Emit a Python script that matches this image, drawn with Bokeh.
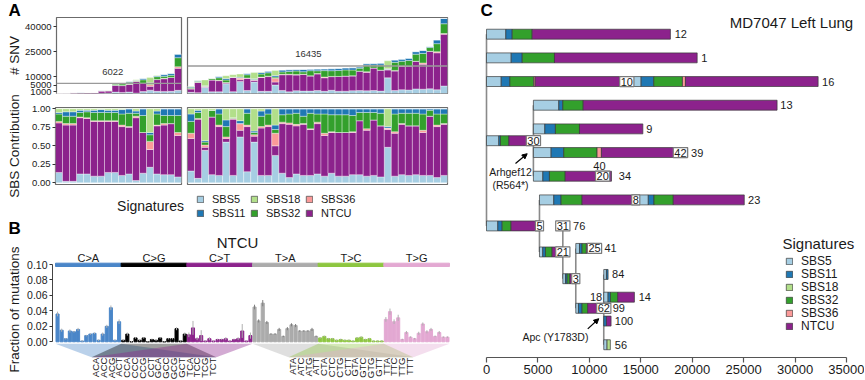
import math
from bokeh.plotting import figure
from bokeh.layouts import row, column
from bokeh.models import (Range1d, FixedTicker, PrintfTickFormatter, Span, Label,
                          Legend, LegendItem, ColumnDataSource, Arrow, NormalHead)
from bokeh.embed import file_html
from bokeh.resources import INLINE
from bokeh.core.properties import value

FONT = "Liberation Sans"
TXT = "#1a1a1a"

# ---------------- signatures ----------------
signatures = ["SBS5", "SBS11", "SBS18", "SBS32", "SBS36", "NTCU"]
sig_colors = ["#A6CEE3", "#1F78B4", "#B2DF8A", "#33A02C", "#FB9A99", "#8C228C"]
stack_order = ["SBS5", "NTCU", "SBS36", "SBS32", "SBS11", "SBS18"]
COL = dict(zip(signatures, sig_colors))

# ---------------- panel A data ----------------
md6812_total = [150, 200, 500, 550, 600, 650, 1800, 1900, 5900, 6200, 7200, 8200,
                9000, 9500, 10800, 11300, 12000, 23500]
md6812_mean = 6022
md6812_SBS5 = [.14, .02, .02, .12, .12, .09, .09, .14, .14, .10, .12, .03, .13, .21, .12, .11, .11, .08]
md6812_NTCU = [.67, .76, .76, .76, .75, .74, .74, .69, .69, .66, .63, .85, .55, .24, .65, .67, .69, .56]
md6812_SBS36 = [.02, .02, .02, .01, .01, .01, .01, .01, .01, .02, .01, .02, .00, .11, .01, .02, .00, .04]
md6812_SBS32 = [.10, .10, .10, .06, .08, .11, .11, .11, .11, .15, .18, .04, .23, .09, .15, .11, .11, .23]
md6812_SBS11 = [.02, .06, .06, .03, .02, .03, .04, .03, .03, .06, .06, .03, .09, .03, .04, .09, .09, .09]
md6812_SBS18 = [.05, .04, .04, .02, .02, .02, .01, .02, .02, .01, .00, .03, .00, .32, .03, .00, .00, .00]

md7047_total = [4400, 7700, 8100, 9100, 10100, 10600, 11200, 11600, 11900, 12500, 12900, 13300,
                13700, 14000, 14200, 14300, 14400, 14500, 14600, 14700, 14800, 15000, 15300,
                15400, 15900, 17800, 17900, 18100, 19500, 20000, 20500, 21000, 25000, 25700,
                28000, 32000, 44800]
md7047_mean = 16435
md7047_SBS5 = [.16, .06, .44, .11, .10, .55, .10, .62, .15, .55, .10, .10, .37, .13, .07, .12, .10, .10, .12,
               .09, .13, .09, .09, .11, .11, .09, .10, .08, .48, .09, .11, .10, .11, .10, .10, .07, .10]
md7047_NTCU = [.44, .80, .04, .78, .66, .05, .76, .09, .61, .08, .64, .66, .13, .67, .72, .65, .69, .62, .68,
               .55, .55, .59, .59, .57, .73, .62, .75, .69, .24, .58, .68, .67, .66, .58, .80, .69, .69]
md7047_SBS36 = [.07, .01, .03, .00, .02, .02, .01, .09, .02, .02, .02, .02, .17, .02, .02, .02, .01, .01, .02,
                .03, .01, .00, .00, .01, .00, .02, .00, .00, .02, .02, .01, .00, .00, .03, .00, .02, .01]
md7047_SBS32 = [.16, .08, .04, .09, .15, .14, .01, .00, .16, .03, .14, .15, .05, .10, .12, .15, .10, .21, .11,
                .26, .23, .24, .24, .22, .11, .22, .10, .17, .00, .24, .14, .17, .17, .22, .08, .15, .13]
md7047_SBS11 = [.10, .03, .02, .00, .07, .09, .00, .04, .06, .02, .07, .07, .06, .08, .07, .06, .10, .06, .07,
                .07, .08, .08, .08, .09, .05, .05, .05, .06, .02, .07, .06, .06, .06, .07, .02, .07, .07]
md7047_SBS18 = [.07, .02, .43, .02, .00, .15, .12, .16, .00, .30, .03, .00, .22, .00, .00, .00, .00, .00, .00,
                .00, .00, .00, .00, .00, .00, .00, .00, .00, .24, .00, .00, .00, .00, .00, .00, .00, .00]

snv_ticks = [1000, 5000, 10000, 25000, 40000]
contrib_ticks = [0, 0.25, 0.5, 0.75, 1.0]

# ---------------- panel B data ----------------
mut_types = ["C>A", "C>G", "C>T", "T>A", "T>C", "T>G"]
mut_colors = ["#4A86C8", "#000000", "#8C228C", "#ABABAB", "#8DC63F", "#E3A8D2"]
contexts_C = ["ACA", "ACC", "ACG", "ACT", "CCA", "CCC", "CCG", "CCT",
              "GCA", "GCC", "GCG", "GCT", "TCA", "TCC", "TCG", "TCT"]
contexts_T = ["ATA", "ATC", "ATG", "ATT", "CTA", "CTC", "CTG", "CTT",
              "GTA", "GTC", "GTG", "GTT", "TTA", "TTC", "TTG", "TTT"]
ntcu_CA = [.036, .015, .004, .014, .013, .016, .001, .008, .010, .011, .002, .010, .020, .044, .002, .026]
ntcu_CG = [.002, .010, .000, .005, .002, .005, .000, .003, .002, .005, .000, .004, .004, .017, .001, .010]
ntcu_CT = [.009, .018, .004, .008, .001, .004, .001, .003, .003, .004, .001, .003, .004, .014, .001, .008]
ntcu_TA = [.045, .027, .050, .025, .010, .010, .016, .007, .017, .022, .021, .014, .014, .014, .016, .007]
ntcu_TC = [.005, .007, .004, .004, .002, .003, .002, .002, .001, .005, .006, .003, .004, .001, .001, .001]
ntcu_TG = [.029, .039, .026, .031, .003, .012, .006, .004, .011, .023, .013, .016, .007, .012, .006, .006]
err_CA = [.003, .002, .001, .002, .001, .002, .001, .001, .001, .001, .001, .002, .002, .003, .001, .003]
err_CG = [.001, .002, .001, .001, .001, .001, .001, .001, .001, .001, .001, .001, .001, .002, .001, .002]
err_CT = [.003, .009, .002, .007, .001, .002, .001, .001, .001, .002, .001, .001, .002, .009, .001, .004]
err_TA = [.003, .002, .004, .002, .001, .001, .002, .001, .002, .002, .002, .001, .001, .001, .002, .001]
err_TC = [.001, .001, .001, .001, .001, .001, .001, .001, .001, .001, .001, .001, .001, .001, .001, .001]
err_TG = [.003, .004, .003, .004, .001, .002, .001, .001, .002, .002, .002, .002, .001, .002, .001, .001]
frac_ticks = [0, 0.02, 0.04, 0.06, 0.08, 0.10]

# ---------------- panel C data (tree branches) ----------------
tree_y = [1, 2, 3, 3, 5.5, 4, 5, 6, 6, 7, 7, 9.1, 8, 8, 10.2, 11.33, 10.05, 12.58, 11.15, 12.11, 13.12, 14.12]
tree_start = [0, 0, 0, 13640, 0, 4560, 4560, 4560, 18850, 4560, 11290, 0, 5150, 14510, 5150, 7420,
              8680, 8680, 11400, 11400, 11400, 11400]
tree_SBS5 = [1880, 2400, 1430, 1390, 1200, 2470, 1110, 1720, 0, 920, 0, 1100, 1390, 1220, 320, 260,
             360, 260, 260, 420, 0, 320]
tree_SBS11 = [620, 1070, 840, 1230, 160, 390, 1030, 1230, 0, 640, 0, 420, 710, 550, 260, 160,
              250, 350, 160, 230, 260, 0]
tree_SBS18 = [0, 0, 0, 0, 0, 0, 0, 0, 0, 0, 0, 0, 0, 0, 0, 0, 0, 0, 0, 0, 0, 320]
tree_SBS32 = [1940, 3140, 2330, 2790, 810, 1980, 2340, 3240, 0, 1530, 0, 870, 2040, 1880, 650, 260,
              420, 550, 0, 710, 0, 0]
tree_SBS36 = [0, 0, 130, 290, 0, 0, 0, 420, 0, 0, 0, 0, 0, 0, 0, 0, 0, 0, 0, 0, 0, 0]
tree_NTCU = [13440, 13870, 8910, 12900, 2390, 18850, 6160, 7680, 710, 3640, 860, 2760, 5220, 6900, 1040, 580,
             790, 1560, 0, 1620, 450, 0]
conn_x = [0, 4560, 5150, 7420, 8680, 11400]
conn_y0 = [1, 4, 8, 9.1, 10.05, 11.15]
conn_y1 = [9.1, 7, 10.2, 11.33, 12.58, 14.12]
node_lab = ["10", "30", "42", "20", "8", "5", "31", "21", "3", "25", "62"]
node_x = [13640, 4560, 18850, 11290, 14510, 5150, 7420, 7420, 8680, 10500, 11400]
node_y = [3, 5.5, 6, 7, 8, 9.1, 9.1, 10.2, 11.33, 10.05, 12.58]
leaf_lab = ["12", "1", "16", "13", "9", "39", "34", "23", "76", "41", "84", "14", "99", "100", "56"]
leaf_x = [18300, 20890, 32620, 28570, 15520, 19890, 12860, 25430, 8420, 11470, 12210, 14800, 12270, 12470, 12470]
leaf_y = [1, 2, 3, 4, 5, 6, 7, 8, 9.1, 10.05, 11.15, 12.11, 12.58, 13.12, 14.12]
xaxis_ticks = [0, 5000, 10000, 15000, 20000, 25000, 30000, 35000]

md6812 = dict(SBS5=md6812_SBS5, SBS11=md6812_SBS11, SBS18=md6812_SBS18,
              SBS32=md6812_SBS32, SBS36=md6812_SBS36, NTCU=md6812_NTCU)
md7047 = dict(SBS5=md7047_SBS5, SBS11=md7047_SBS11, SBS18=md7047_SBS18,
              SBS32=md7047_SBS32, SBS36=md7047_SBS36, NTCU=md7047_NTCU)


def base_fig(**kw):
    p = figure(output_backend="svg", toolbar_location=None, **kw)
    p.grid.grid_line_color = None
    return p


def style_yaxis(ax, size):
    ax.axis_line_color = None
    ax.major_tick_line_color = "#333333"
    ax.major_tick_out = 3
    ax.major_tick_in = 0
    ax.minor_tick_line_color = None
    ax.major_label_text_font = FONT
    ax.major_label_text_font_size = size
    ax.major_label_text_color = TXT
    ax.major_label_standoff = 2


SNV_MAX = 45400


def snv_fig(totals, fr, width, left, right, name, mean, mean_x, with_axis):
    n = len(totals)
    p = base_fig(width=width, height=100, x_range=Range1d(-0.5, n - 0.5), y_range=Range1d(0, SNV_MAX),
                 x_axis_location=None, y_axis_location=("left" if with_axis else None),
                 min_border_left=left, min_border_right=right, min_border_top=17, min_border_bottom=7)
    src = {"x": list(range(n))}
    for s in stack_order:
        src[s] = [t * f for t, f in zip(totals, fr[s])]
    p.vbar_stack(stack_order, x="x", width=1.0, source=ColumnDataSource(src),
                 fill_color=[COL[s] for s in stack_order], line_color="white", line_alpha=0.6, line_width=0.6)
    p.add_layout(Span(location=mean, dimension="width", line_color="#9a9a9a", line_width=1.3))
    p.add_layout(Label(x=mean_x, y=mean + 7000, text=str(mean), text_font=FONT, text_font_size="9.5px",
                       text_align="center", text_baseline="middle", text_color="#333333"))
    p.add_layout(Label(x=(n - 1) / 2, y=SNV_MAX * (1 + 9 / 76), text=name, text_font=FONT,
                       text_font_size="15px", text_align="center", text_baseline="middle", text_color=TXT))
    p.outline_line_color = "#6b6b6b"
    p.outline_line_width = 1.2
    if with_axis:
        ax = p.yaxis[0]
        ax.ticker = FixedTicker(ticks=snv_ticks)
        style_yaxis(ax, "9.5px")
    return p


def contrib_fig(fr, width, left, right, with_axis):
    n = len(fr["SBS5"])
    p = base_fig(width=width, height=90, x_range=Range1d(-0.5, n - 0.5), y_range=Range1d(-0.023, 1.018),
                 x_axis_location=None, y_axis_location=("left" if with_axis else None),
                 min_border_left=left, min_border_right=right, min_border_top=7, min_border_bottom=6)
    src = {"x": list(range(n))}
    for s in stack_order:
        src[s] = fr[s]
    p.vbar_stack(stack_order, x="x", width=1.0, source=ColumnDataSource(src),
                 fill_color=[COL[s] for s in stack_order], line_color="white", line_alpha=0.6, line_width=0.6)
    p.outline_line_color = "#6b6b6b"
    p.outline_line_width = 1.2
    if with_axis:
        ax = p.yaxis[0]
        ax.ticker = FixedTicker(ticks=contrib_ticks)
        ax.formatter = PrintfTickFormatter(format="%.2f")
        style_yaxis(ax, "9.5px")
    return p


H = 379  # total height in px

# ---------------- left label strip ----------------
strip = base_fig(width=22, height=H, x_range=Range1d(0, 22), y_range=Range1d(0, H),
                 x_axis_location=None, y_axis_location=None, min_border=0)
strip.outline_line_color = None
strip.text(x=[8, 8], y=[H - 10, H - 228], text=["A", "B"], text_font=value(FONT),
           text_font_style="bold", text_font_size="17px", text_baseline="middle", text_align="left",
           text_color="black")
strip.text(x=[14.0, 14.0, 14.0], y=[H - 55, H - 145.5, H - 309],
           text=["# SNV", "SBS Contribution", "Fraction of mutations"], angle=math.pi / 2,
           text_font=value(FONT), text_font_size="13.5px", text_baseline="middle", text_align="center",
           text_color=TXT)

# ---------------- panel A ----------------
a1 = snv_fig(md6812_total, md6812, 162, 33, 3, "MD6812", md6812_mean, 7.6, True)
a2 = snv_fig(md7047_total, md7047, 286, 3, 23, "MD7047", md7047_mean, 16.7, False)
a3 = contrib_fig(md6812, 162, 33, 3, True)
a4 = contrib_fig(md7047, 286, 3, 23, False)

# ---------------- panel B ----------------
vals = ntcu_CA + ntcu_CG + ntcu_CT + ntcu_TA + ntcu_TC + ntcu_TG
errs = err_CA + err_CG + err_CT + err_TA + err_TC + err_TG
xs = list(range(len(vals)))
bar_cols = [mut_colors[i // 16] for i in xs]
err_cols = ["#7d7d7d" if i // 16 == 3 else "#b0b0b0" for i in xs]

HB = H - 190
pb = base_fig(width=448, height=HB, x_range=Range1d(-1.231, 100.62),
              y_range=Range1d(-(190 + HB - 341.3) / 773, (341.3 - 190) / 773),
              x_axis_location=None, y_axis_location="left",
              min_border_left=30, min_border_right=0, min_border_top=0, min_border_bottom=0)
pb.outline_line_color = None
# fans from each mutation class to its trinucleotide labels
fan_xs, fan_ys, fan_cols = [], [], []
for g in range(6):
    centre = 23.5 if g < 3 else 71.5
    fan_xs.append([16 * g - 0.5, 16 * g + 15.5, centre + 15.2, centre - 15.2])
    fan_ys.append([-0.0026, -0.0026, -0.0199, -0.0199])
    fan_cols.append(mut_colors[g])
pb.patches(fan_xs, fan_ys, fill_color=fan_cols, fill_alpha=0.38, line_color=None)
pb.vbar(x=xs, top=vals, width=0.75, color=bar_cols)
pb.segment(x0=xs, y0=[v - e for v, e in zip(vals, errs)], x1=xs, y1=[v + e for v, e in zip(vals, errs)],
           line_color=err_cols, line_width=1)
pb.quad(left=[16 * g - 0.5 for g in range(6)], right=[16 * g + 15.5 for g in range(6)],
        bottom=0.0974, top=0.1017, color=mut_colors)
pb.text(x=[16 * g + 7.5 for g in range(6)], y=0.109, text=mut_types, text_font=value(FONT),
        text_font_size="11px", text_align="center", text_baseline="middle", text_color=TXT)
pb.text(x=[43.85], y=[0.1289], text=["NTCU"], text_font=value(FONT), text_font_size="15px",
        text_align="center", text_baseline="middle", text_color=TXT)
ctx_x = [23.5 + (k - 7.5) * 1.9 for k in range(16)] + [71.5 + (k - 7.5) * 1.9 for k in range(16)]
pb.text(x=ctx_x, y=-0.0205, text=contexts_C + contexts_T, angle=math.pi / 2, text_font=value(FONT),
        text_font_size="9.5px", text_align="right", text_baseline="middle", text_color=TXT)
ax = pb.yaxis[0]
ax.ticker = FixedTicker(ticks=frac_ticks)
ax.formatter = PrintfTickFormatter(format="%.2f")
ax.bounds = (0, 0.1)
style_yaxis(ax, "10.5px")
ax.axis_line_color = "#444444"
ax.axis_line_width = 1
# legend for panel A (placed in the space above panel B)
pb.text(x=[22.65], y=[0.1763], text=["Signatures"], text_font=value(FONT), text_font_size="14px",
        text_align="center", text_baseline="middle", text_color=TXT)
dummy = {}
for s in signatures:
    dummy[s] = pb.rect(x=[-50], y=[-1], width=1, height=0.01, fill_color=COL[s], line_color="#555555",
                       line_width=0.8)
legend_cols = [["SBS5", "SBS11"], ["SBS18", "SBS32"], ["SBS36", "NTCU"]]
legend_xoff = [144, 198, 253]
for names, xo in zip(legend_cols, legend_xoff):
    lg = Legend(items=[LegendItem(label=nm, renderers=[dummy[nm]]) for nm in names],
                location=(xo, 160), orientation="vertical", padding=0, margin=0, spacing=1,
                glyph_width=8, glyph_height=8, label_height=13, label_standoff=8,
                label_text_font=FONT, label_text_font_size="11px", label_text_color=TXT,
                border_line_color=None, background_fill_alpha=0)
    pb.add_layout(lg)

# ---------------- panel C ----------------
WC = 394
ROW0, ROWH = 33.7, 23.67       # px of row 1 and px per row
PX0, PXK = 486 - 470, 10.286   # px of x=0 inside the figure, px per 1000
pc = base_fig(width=WC, height=H, x_range=Range1d(-PX0 / PXK * 1000, (WC - PX0) / PXK * 1000),
              y_range=Range1d(1 + (357 - ROW0) / ROWH, 1 - ROW0 / ROWH),
              x_axis_location="below", y_axis_location=None,
              min_border_left=0, min_border_right=0, min_border_top=0, min_border_bottom=H - 357)
pc.outline_line_color = None
pc.segment(x0=conn_x, y0=conn_y0, x1=conn_x, y1=conn_y1, line_color="#8a8a8a", line_width=1.6)
tree = dict(SBS5=tree_SBS5, SBS11=tree_SBS11, SBS18=tree_SBS18, SBS32=tree_SBS32,
            SBS36=tree_SBS36, NTCU=tree_NTCU)
cum = list(tree_start)
seg_r = {}
for s in signatures:
    L, R, Y = [], [], []
    for i, ln in enumerate(tree[s]):
        if ln > 0:
            L.append(cum[i]); R.append(cum[i] + ln); Y.append(tree_y[i])
        cum[i] += ln
    seg_r[s] = pc.hbar(y=Y, left=L, right=R, height=0.42, fill_color=COL[s],
                       line_color="#3a3a3a", line_width=0.7)
pc.text(x=node_x, y=node_y, text=node_lab, text_font=value(FONT), text_font_size="11px",
        text_align="center", text_baseline="middle", text_color=TXT,
        background_fill_color="white", border_line_color="#7a7a7a", border_line_width=1.2, padding=1)
pc.text(x=leaf_x, y=leaf_y, text=leaf_lab, text_font=value(FONT), text_font_size="11px",
        text_align="left", text_baseline="middle", text_color=TXT)
pc.text(x=[10980], y=[6.55], text=["40"], text_font=value(FONT), text_font_size="11px",
        text_align="center", text_baseline="middle", text_color=TXT)
pc.text(x=[11240], y=[12.11], text=["18"], text_font=value(FONT), text_font_size="11px",
        text_align="right", text_baseline="middle", text_color=TXT)
pc.text(x=[2332, 2332, 6706], y=[6.84, 7.35, 13.8], text=["Arhgef12", "(R564*)", "Apc (Y1783D)"],
        text_font=value(FONT), text_font_size="10.5px", text_align="center", text_baseline="middle",
        text_color=TXT)
pc.add_layout(Arrow(end=NormalHead(size=5, fill_color="black", line_color="black"),
                    x_start=2818, y_start=6.46, x_end=3955, y_end=6.05, line_width=1.2))
pc.add_layout(Arrow(end=NormalHead(size=5, fill_color="black", line_color="black"),
                    x_start=9844, y_start=13.45, x_end=10914, y_end=13.02, line_width=1.2))
pc.text(x=[-583], y=[0.0], text=["C"], text_font=value(FONT), text_font_style="bold",
        text_font_size="17px", text_align="left", text_baseline="middle", text_color="black")
pc.text(x=[35650], y=[0.506], text=["MD7047 Left Lung"], text_font=value(FONT), text_font_size="15px",
        text_align="right", text_baseline="middle", text_color=TXT)
pc.text(x=[28780], y=[9.855], text=["Signatures"], text_font=value(FONT), text_font_size="15px",
        text_align="left", text_baseline="middle", text_color=TXT)
legend_yoff = [89, 76, 63, 50, 37, 24]   # px above the axis line, 13 px per row
for s, yo in zip(signatures, legend_yoff):
    lg = Legend(items=[LegendItem(label=s, renderers=[seg_r[s]])],
                location=(315, yo), orientation="vertical",
                padding=0, margin=0, spacing=0,
                glyph_width=8, glyph_height=8, label_height=12, label_standoff=8,
                label_text_font=FONT, label_text_font_size="12px", label_text_color=TXT,
                label_text_line_height=0.9,
                border_line_color=None, background_fill_alpha=0)
    pc.add_layout(lg)
xa = pc.xaxis[0]
xa.ticker = FixedTicker(ticks=xaxis_ticks)
xa.bounds = (0, 35000)
xa.axis_line_color = "#555555"
xa.axis_line_width = 1.2
xa.major_tick_line_color = "#555555"
xa.major_tick_line_width = 1.2
xa.major_tick_out = 5
xa.major_tick_in = 0
xa.minor_tick_line_color = None
xa.major_label_text_font = FONT
xa.major_label_text_font_size = "13px"
xa.major_label_text_color = TXT
xa.major_label_standoff = 2

left = row(strip, column(row(a1, a2), row(a3, a4), pb))
layout = row(left, pc)

open("out.html", "w").write(file_html(layout, INLINE))
